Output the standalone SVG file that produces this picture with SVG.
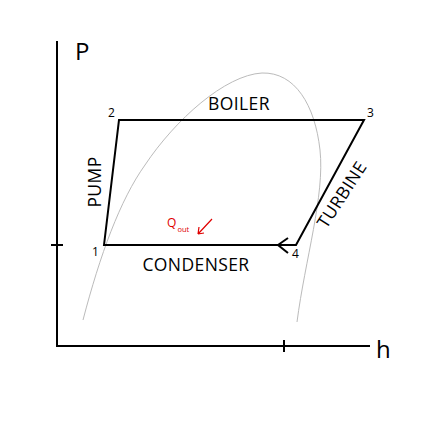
<svg xmlns="http://www.w3.org/2000/svg" width="422" height="422" viewBox="0 0 422 422">
<style>
.ax{stroke:#000;stroke-width:2;fill:none}
.cyc{stroke:#000;stroke-width:2;fill:none;stroke-linejoin:miter}
.dome{stroke:#bbb;stroke-width:1;fill:none}
.lbl{font-family:"Open Sans","Liberation Sans",sans-serif;font-size:17.5px;font-weight:500;fill:#000}
.num{font-family:"Open Sans","Liberation Sans",sans-serif;font-size:12px;fill:#000}
.axl{font-family:"Open Sans","Liberation Sans",sans-serif;font-size:24px;fill:#000}
.red{fill:#e00000;font-family:"Open Sans","Liberation Sans",sans-serif}
</style>
<rect width="422" height="422" fill="#fff"/>
<g id="axes">
<path class="ax" d="M57,41 V346 H370"/>
<path class="ax" d="M51,245 H63 M284,340 V352" stroke-width="1.5"/>
<text class="axl" x="75" y="60">P</text>
<text class="axl" x="376" y="358">h</text>
</g>
<g id="dome">
<path class="dome" d="M83,320 C100,255 120,200 145,165 C175,120 225,75 262,73 C295,72 315,105 320,150 C325,195 305,260 297,322"/>
</g>
<g id="connectors">
<path class="cyc" d="M104,245 L119,120 L364,120 L296,245 Z"/>
<path class="cyc" d="M288,238 L278,245 L288,253" stroke-width="1.6"/>
</g>
<g id="n1"><text class="num" x="92" y="256">1</text></g>
<g id="n2"><text class="num" x="108" y="117">2</text></g>
<g id="n3"><text class="num" x="367" y="117">3</text></g>
<g id="n4"><text class="num" x="292" y="258">4</text></g>
<g id="boiler"><text class="lbl" x="239" y="110" text-anchor="middle" letter-spacing="0.4">BOILER</text></g>
<g id="condenser"><text class="lbl" x="196" y="271" text-anchor="middle" letter-spacing="0.4">CONDENSER</text></g>
<g id="pump"><text class="lbl" transform="translate(101,182) rotate(-90)" text-anchor="middle" letter-spacing="0.4">PUMP</text></g>
<g id="turbine"><text class="lbl" transform="translate(347,198) rotate(-57)" text-anchor="middle" letter-spacing="0.4">TURBINE</text></g>
<g id="qout">
<text class="red" x="167" y="227" font-size="12">Q</text>
<text class="red" x="177.5" y="232" font-size="7.5">out</text>
<path d="M212,219 L198,234 M198,234 L199,227 M198,234 L204,233" stroke="#e00000" stroke-width="1.2" fill="none"/>
</g>
</svg>
